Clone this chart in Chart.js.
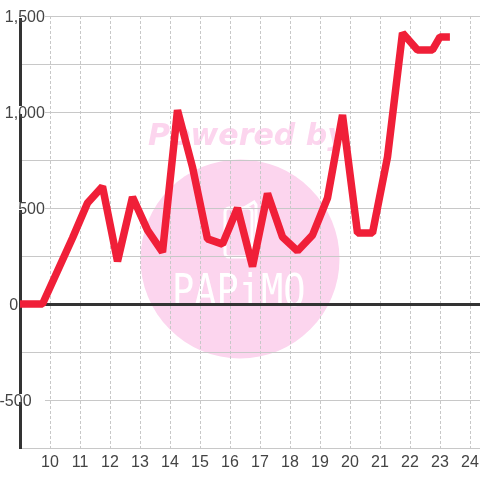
<!DOCTYPE html>
<html>
<head>
<meta charset="utf-8">
<style>
html, body { margin: 0; padding: 0; background: #fff; }
#wrap { width: 480px; height: 480px; }
</style>
<script src="https://cdn.jsdelivr.net/npm/chart.js@4"></script>
</head>
<body>
<div id="wrap"><canvas id="myChart" width="480" height="480"></canvas></div>
<script>
// hours of the day, readings every half hour
var hours = [8.75, 9.75, 10.25, 10.75, 11.25, 11.75, 12.25, 12.75, 13.25, 13.75, 14.25, 14.75, 15.25, 15.75, 16.25, 16.75, 17.25, 17.75, 18.25, 18.75, 19.25, 19.75, 20.25, 20.75, 21.25, 21.75, 22.25, 22.75, 23, 23.33];
var values = [0, 0, 172, 344, 526, 612, 222, 557, 385, 270, 1010, 713, 339, 312, 500, 195, 575, 349, 276, 359, 552, 985, 370, 370, 766, 1412, 1323, 1323, 1391, 1391];
// trailing spaces shift the 0 and -500 labels left like in the reference
var yLabels = { '1500': '1,500', '1000': '1,000', '500': '500', '0': '0      ', '-500': '-500   ' };

// logo behind the grid
var watermark = {
    id: 'watermark',
    beforeDraw: function (chart) {
        var c = chart.ctx;
        c.save();
        c.fillStyle = '#fcd5ee';
        c.beginPath();
        c.arc(240, 259, 99.5, 0, Math.PI * 2);
        c.fill();

        c.font = 'italic bold 30px "DejaVu Sans"';
        c.textAlign = 'left';
        c.textBaseline = 'alphabetic';
        c.fillText('Powered by', 148, 145);

        c.strokeStyle = '#fff';
        c.lineWidth = 3;
        c.beginPath();
        c.roundRect(225, 208, 27, 49, 4);
        c.stroke();
        c.beginPath();
        c.moveTo(244, 208);
        c.lineTo(254, 202);
        c.lineTo(256, 205);
        c.lineTo(256, 250);
        c.stroke();

        c.fillStyle = '#fff';
        c.translate(172, 306);
        c.scale(0.84, 1);
        c.font = '44px "DejaVu Sans Mono"';
        c.fillText('PAPiMO', 0, 0);
        c.restore();
    }
};

var ctx = document.getElementById('myChart').getContext('2d');
var myChart = new Chart(ctx, {
    type: 'line',
    data: {
        datasets: [{
            data: hours.map(function (h, i) { return { x: h, y: values[i] }; }),
            borderColor: '#f01f38',
            borderWidth: 7.5,
            borderJoinStyle: 'bevel',
            borderCapStyle: 'butt',
            pointRadius: 0,
            tension: 0
        }]
    },
    plugins: [watermark],
    options: {
        responsive: false,
        animation: false,
        layout: { padding: { top: 16, left: 0, right: 0, bottom: 0 } },
        plugins: { legend: { display: false }, tooltip: { enabled: false } },
        scales: {
            x: {
                type: 'linear',
                min: 9,
                max: 24.3333,
                afterBuildTicks: function (scale) {
                    scale.ticks = scale.ticks.filter(function (t) {
                        return t.value >= 10 && Number.isInteger(t.value);
                    });
                },
                afterFit: function (scale) {
                    scale.height = 32;
                    scale.paddingLeft = 0;
                    scale.paddingRight = 0;
                },
                grid: { color: '#c8c8c8', lineWidth: 1, drawTicks: false },
                border: { display: false, dash: [3, 2] },
                ticks: {
                    stepSize: 1,
                    includeBounds: false,
                    autoSkip: false,
                    maxRotation: 0,
                    padding: 5,
                    color: '#444',
                    font: { family: '"Liberation Sans"', size: 16 }
                }
            },
            y: {
                type: 'linear',
                min: -750,
                max: 1500,
                afterFit: function (scale) {
                    scale.width = 20;
                    scale.paddingTop = 0;
                    scale.paddingBottom = 0;
                },
                grid: {
                    drawTicks: false,
                    color: function (c) { return c.tick.value === 0 ? '#333' : '#c8c8c8'; },
                    lineWidth: function (c) { return c.tick.value === 0 ? 3 : 1; }
                },
                border: { color: '#333', width: 3 },
                ticks: {
                    z: 1,
                    stepSize: 250,
                    autoSkip: false,
                    mirror: true,
                    crossAlign: 'far',
                    padding: -20.5,
                    color: '#444',
                    // small line height + empty first line nudges the text down 2px
                    font: { family: '"Liberation Sans"', size: 16, lineHeight: '4px' },
                    callback: function (v) { return yLabels[v] ? ['', yLabels[v]] : ''; },
                    showLabelBackdrop: true,
                    // no backdrop on the 0 label, the red line runs through there
                    backdropColor: function (c) {
                        return yLabels[c.tick.value] && c.tick.value !== 0 ? '#fff' : 'rgba(0,0,0,0)';
                    },
                    backdropPadding: function (c) {
                        return { top: -1, bottom: 10, left: 2, right: c.index === 1 ? -11 : 1 };
                    }
                }
            }
        }
    }
});
</script>
</body>
</html>
